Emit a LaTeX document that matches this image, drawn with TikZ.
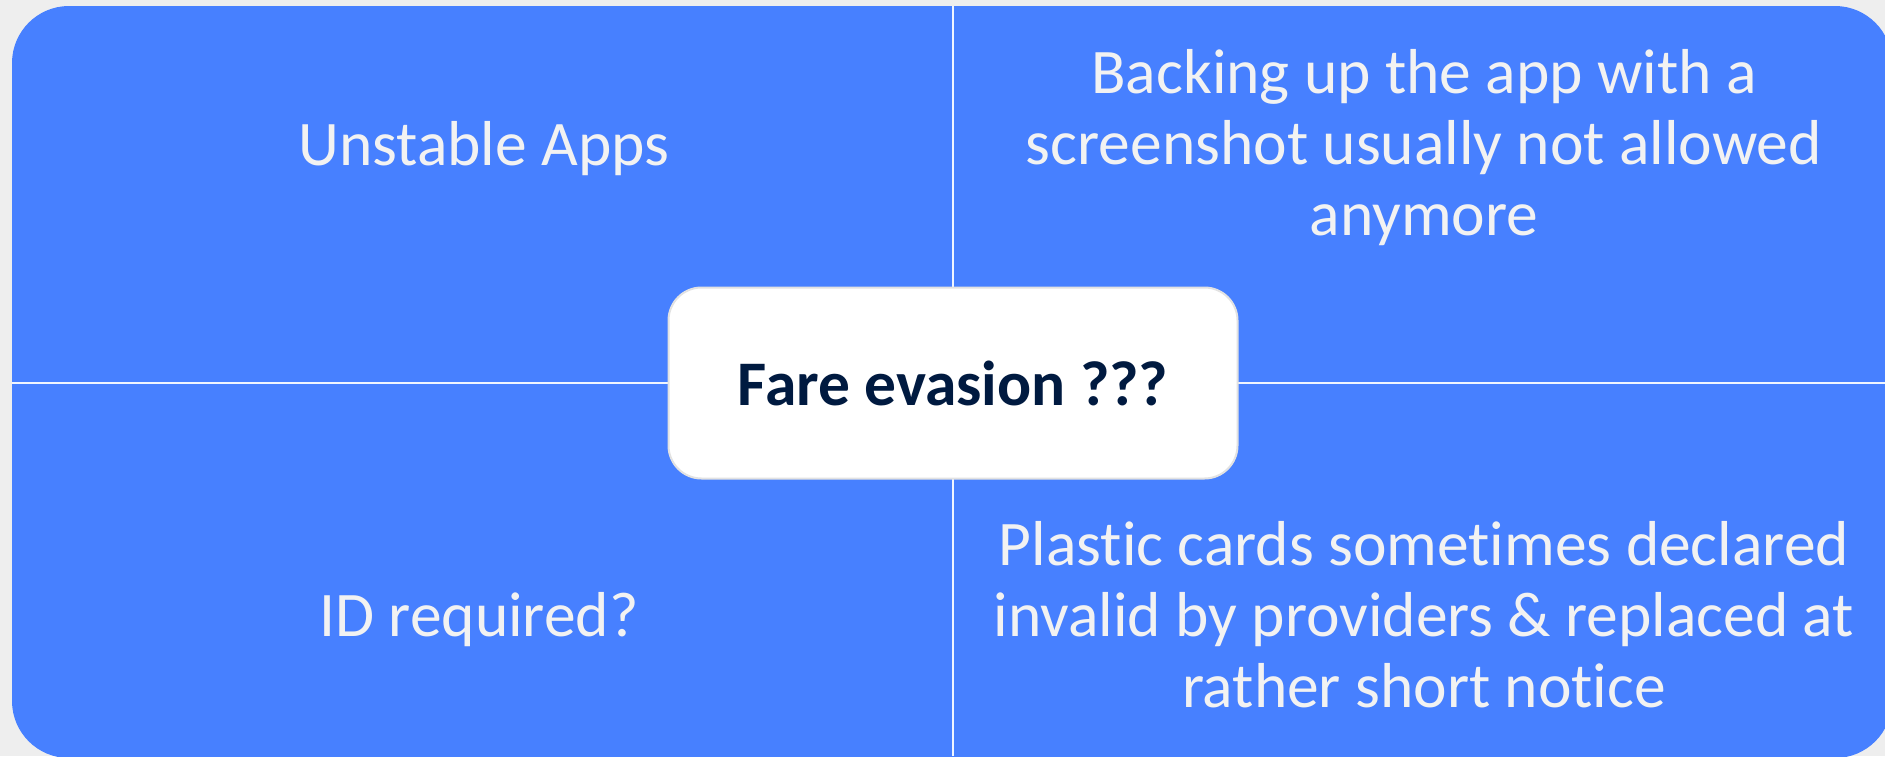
\documentclass[tikz,border=0pt]{standalone}
\usepackage{fontspec}
\setmainfont{Carlito}[Ligatures=NoCommon]
\usepackage{xcolor}
\usepackage{tikz}
\usetikzlibrary{positioning}

\definecolor{pagegray}{HTML}{EEEEEE}
\definecolor{tileblue}{HTML}{4780FF}
\definecolor{tiletext}{HTML}{F2F2F2}
\definecolor{hubtext}{HTML}{001A40}
\definecolor{hubline}{HTML}{E2E2E2}

\tikzset{
	tilelabel/.style={text=tiletext, align=center, inner sep=0pt, font=\fontsize{63.5}{71}\selectfont},
	hubbox/.style={fill=white, draw=hubline, line width=2pt, rounded corners=33pt,
		minimum width=569pt, minimum height=191pt, text=hubtext,
		font=\fontsize{63.5}{72}\selectfont\bfseries}
}

\begin{document}
\begin{tikzpicture}[x=1pt,y=-1pt]
				% Background
				\fill[pagegray] (0,0) rectangle (1885,756);
				\useasboundingbox (0,0) rectangle (1885,756);
				
				% Tiles
				\begin{scope}
					\clip (0,0) rectangle (1885,756);
					\fill[tileblue, rounded corners=57pt] (12,6) rectangle (1892,758);
				\end{scope}
				\draw[white!92!tileblue, line width=2pt] (953,6) -- (953,756);
				\draw[white!92!tileblue, line width=2pt] (12,383) -- (1885,383);
				
				% Tile texts (base = last line)
				\node[tilelabel, anchor=base] (unstable) at (484,165) {Unstable Apps};
				\node[tilelabel, anchor=base] (backup) at (1424,235) {Backing up the app with a\\screenshot usually not allowed\\anymore};
				\node[tilelabel, anchor=base] (idreq) at (479,636) {ID required?};
				\node[tilelabel, anchor=base] (plastic) at (1424,707) {Plastic cards sometimes declared\\invalid by providers \& replaced at\\rather short notice};
				
				% Centre box
				\node[hubbox] (hub) at (953,383) {Fare evasion ???};
			\end{tikzpicture}
\end{document}
